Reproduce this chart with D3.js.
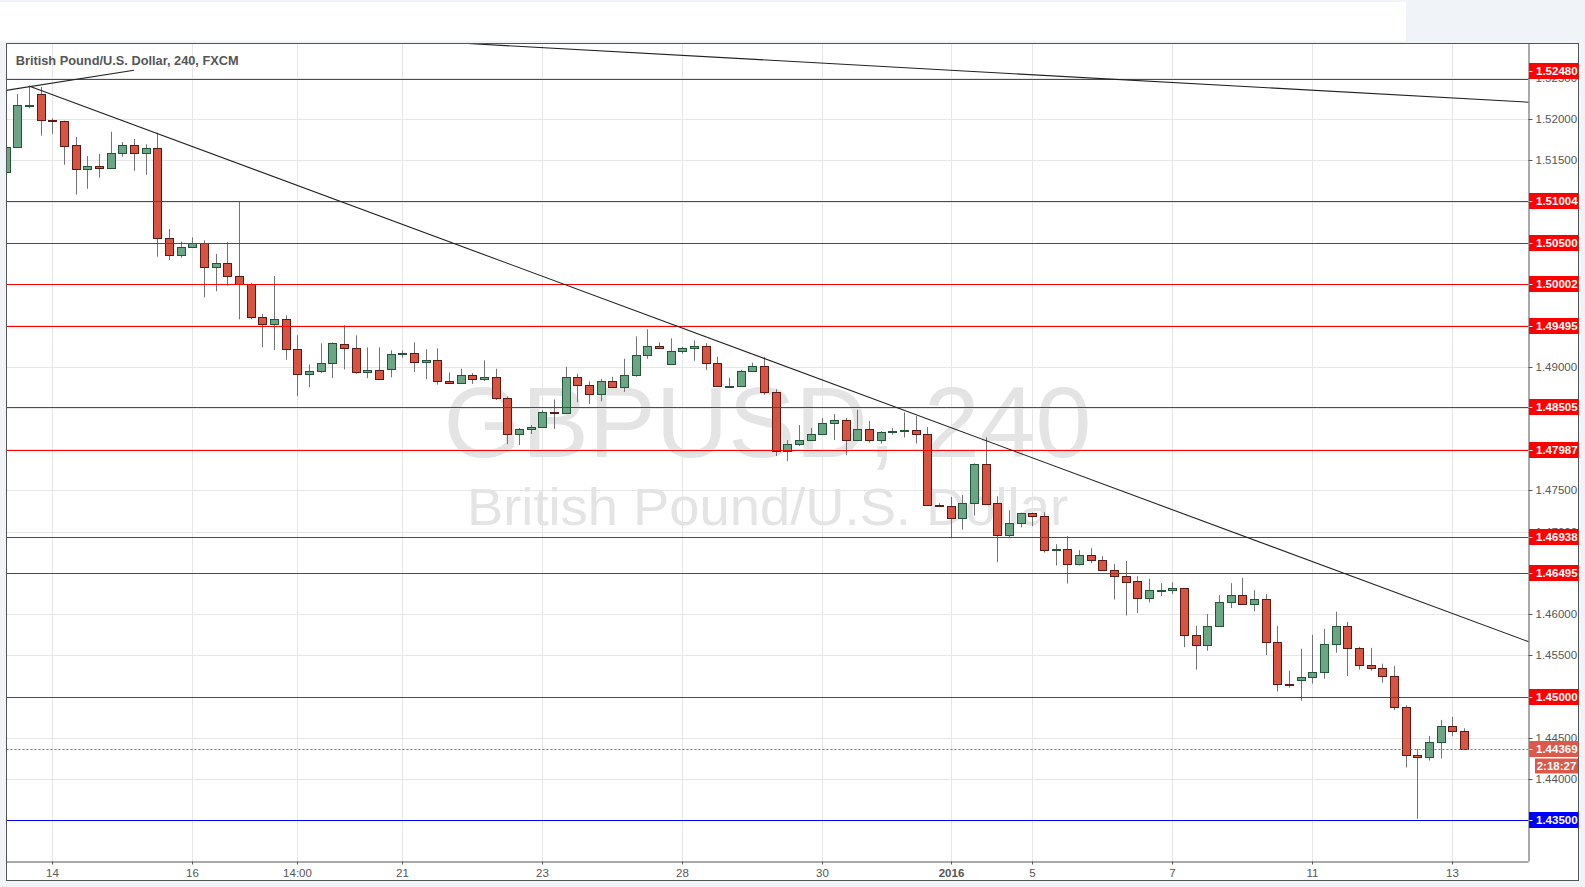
<!DOCTYPE html>
<html><head><meta charset="utf-8">
<script src="https://cdn.jsdelivr.net/npm/d3@7"></script>
<style>
body{margin:0;background:#f0f3f7;overflow:hidden}
svg{display:block}
text{font-family:"Liberation Sans",Arial,sans-serif}
</style></head>
<body><svg id="c" width="1585" height="887"></svg>
<script>
// ---------- data ----------
const opens=[1.51354,1.51657,1.52160,1.52299,1.51990,1.51976,1.51681,1.51390,1.51427,1.51402,1.51584,1.51681,1.51584,1.51645,1.50554,1.50348,1.50445,1.50493,1.50203,1.50250,
1.50093,1.50000,1.49597,1.49512,1.49572,1.49216,1.48912,1.48948,1.49046,1.49277,1.49228,1.48936,1.48960,1.48973,1.49155,1.49167,1.49058,1.49082,1.48827,1.48802,
1.48900,1.48851,1.48875,1.48620,1.48182,1.48243,1.48267,1.48453,1.48437,1.48875,1.48778,1.48668,1.48827,1.48754,1.48900,1.49143,1.49253,1.49034,1.49192,1.49228,
1.49253,1.49046,1.48758,1.48758,1.48948,1.49009,1.48693,1.47975,1.48060,1.48109,1.48182,1.48316,1.48352,1.48109,1.48239,1.48105,1.48206,1.48214,1.48226,1.48178,
1.47322,1.47306,1.47161,1.47343,1.47815,1.47343,1.46955,1.47100,1.47222,1.47185,1.46774,1.46786,1.46604,1.46713,1.46652,1.46531,1.46459,1.46398,1.46194,1.46286,
1.46290,1.46314,1.45748,1.45627,1.45856,1.46145,1.46230,1.46121,1.46182,1.45663,1.45157,1.45205,1.45241,1.45301,1.45639,1.45856,1.45590,1.45386,1.45350,1.45255,
1.44871,1.44288,1.44264,1.44446,1.44640,1.44580];
const highs=[1.51690,1.52303,1.52400,1.52390,1.52010,1.51980,1.51782,1.51552,1.51576,1.51846,1.51721,1.51758,1.51693,1.51834,1.50667,1.50515,1.50566,1.50530,1.50364,1.50509,
1.51000,1.50014,1.49637,1.50097,1.49620,1.49378,1.49025,1.49281,1.49293,1.49500,1.49378,1.49232,1.49232,1.49196,1.49196,1.49293,1.49208,1.49220,1.48928,1.48973,
1.48920,1.49074,1.48973,1.48636,1.48255,1.48291,1.48474,1.48600,1.48997,1.48912,1.48819,1.48851,1.48875,1.49094,1.49366,1.49451,1.49293,1.49342,1.49240,1.49317,
1.49281,1.49119,1.48863,1.48960,1.49046,1.49119,1.48725,1.48109,1.48291,1.48255,1.48376,1.48425,1.48376,1.48474,1.48340,1.48218,1.48255,1.48444,1.48400,1.48267,
1.47343,1.47419,1.47444,1.47827,1.48142,1.47427,1.47258,1.47230,1.47230,1.47234,1.46846,1.46943,1.46774,1.46798,1.46701,1.46608,1.46644,1.46459,1.46427,1.46374,
1.46386,1.46314,1.45856,1.46000,1.46230,1.46374,1.46439,1.46290,1.46242,1.45856,1.45313,1.45579,1.45748,1.45820,1.46029,1.45904,1.45603,1.45590,1.45398,1.45372,
1.44895,1.44365,1.44523,1.44717,1.44753,1.44616];
const lows=[1.51330,1.51657,1.52130,1.51798,1.51820,1.51446,1.51083,1.51155,1.51289,1.51402,1.51543,1.51373,1.51325,1.50331,1.50291,1.50319,1.50445,1.49839,1.49912,1.49980,
1.49572,1.49572,1.49233,1.49200,1.49082,1.48640,1.48750,1.48920,1.48859,1.48965,1.48912,1.48859,1.48839,1.48871,1.49107,1.48932,1.48847,1.48780,1.48790,1.48802,
1.48790,1.48823,1.48595,1.48060,1.48048,1.48182,1.48255,1.48243,1.48425,1.48567,1.48547,1.48579,1.48754,1.48693,1.48875,1.49094,1.49228,1.49034,1.49155,1.49070,
1.48956,1.48766,1.48741,1.48758,1.48948,1.48656,1.47914,1.47853,1.48036,1.48097,1.48182,1.48109,1.47926,1.48105,1.48077,1.48065,1.48174,1.48138,1.48065,1.47318,
1.47302,1.46919,1.47024,1.47193,1.47326,1.46628,1.46931,1.47052,1.47064,1.46745,1.46588,1.46370,1.46588,1.46616,1.46531,1.46176,1.45982,1.46011,1.46141,1.46218,
1.46242,1.45599,1.45326,1.45555,1.45856,1.46073,1.46121,1.46033,1.45502,1.45060,1.45108,1.44950,1.45157,1.45217,1.45531,1.45249,1.45326,1.45313,1.45169,1.44834,
1.44139,1.43520,1.44224,1.44248,1.44519,1.44369];
const closes=[1.51657,1.52166,1.52173,1.51984,1.51970,1.51677,1.51390,1.51427,1.51402,1.51584,1.51681,1.51584,1.51649,1.50554,1.50348,1.50445,1.50493,1.50203,1.50250,1.50093,
1.49996,1.49597,1.49512,1.49572,1.49216,1.48912,1.48948,1.49046,1.49281,1.49228,1.48936,1.48960,1.48851,1.49155,1.49167,1.49058,1.49082,1.48827,1.48802,1.48900,
1.48851,1.48875,1.48620,1.48182,1.48243,1.48267,1.48450,1.48437,1.48875,1.48778,1.48668,1.48827,1.48754,1.48900,1.49143,1.49253,1.49228,1.49192,1.49228,1.49253,
1.49046,1.48766,1.48766,1.48948,1.49009,1.48693,1.47975,1.48060,1.48109,1.48182,1.48316,1.48352,1.48109,1.48239,1.48105,1.48202,1.48218,1.48226,1.48178,1.47318,
1.47314,1.47161,1.47343,1.47815,1.47339,1.46955,1.47100,1.47222,1.47185,1.46774,1.46786,1.46604,1.46713,1.46652,1.46531,1.46459,1.46394,1.46192,1.46290,1.46290,
1.46314,1.45748,1.45627,1.45856,1.46145,1.46230,1.46121,1.46182,1.45663,1.45157,1.45153,1.45241,1.45301,1.45639,1.45856,1.45590,1.45386,1.45350,1.45253,1.44871,
1.44288,1.44264,1.44446,1.44640,1.44580,1.44369];

const xTickIndex=[4,16,25,34,46,58,70,81,88,100,112,124];
const xTickLabels=["14","16","14:00","21","23","28","30","2016","5","7","11","13"];
const yTicks=[1.435,1.44,1.445,1.45,1.455,1.46,1.465,1.47,1.475,1.48,1.485,1.49,1.495,1.5,1.505,1.51,1.515,1.52,1.525];
const redLevels=[1.52480,1.51004,1.50500,1.50002,1.49495,1.48505,1.47987,1.46938,1.46495,1.45000];
const blueLevels=[1.43500];
const lastPrice=1.44369;
const countdown="2:18:27";
// trend lines as [index, price] pairs
const trendLines=[
  [[-1,1.52324],[11,1.52590]],
  [[2,1.52400],[131,1.45640]],
  [[39.6,1.52915],[131,1.52200]]
];
const titleText="British Pound/U.S. Dollar, 240, FXCM";
const watermark1="GBPUSD, 240";
const watermark2="British Pound/U.S. Dollar";

// ---------- layout ----------
const P={l:6.5,t:43.5,r:1528.5,b:861.5,axR:1578.5,axB:880.5};
const x=d3.scaleLinear().domain([0,125]).range([5.63,1464.0]);
const y=d3.scaleLinear().domain([1.43,1.53]).range([861.55,36.5]);

const svg=d3.select("#c");
// top white strip
svg.append("rect").attr("x",0).attr("y",2).attr("width",1406).attr("height",38.7).attr("fill","#ffffff");
// chart background
svg.append("rect").attr("x",P.l).attr("y",P.t).attr("width",P.axR-P.l).attr("height",P.axB-P.t).attr("fill","#ffffff");

svg.append("defs").append("clipPath").attr("id","pc").append("rect")
  .attr("x",P.l).attr("y",P.t).attr("width",P.r-P.l).attr("height",P.b-P.t);
const g=svg.append("g").attr("clip-path","url(#pc)");

// grid
g.selectAll("line.hg").data(yTicks).enter().append("line")
  .attr("x1",P.l).attr("x2",P.r).attr("y1",d=>Math.round(y(d))+0.5).attr("y2",d=>Math.round(y(d))+0.5)
  .attr("stroke","#e6e6e6").attr("stroke-width",1);
g.selectAll("line.vg").data(xTickIndex).enter().append("line")
  .attr("y1",P.t).attr("y2",P.b).attr("x1",d=>Math.round(x(d))+0.5).attr("x2",d=>Math.round(x(d))+0.5)
  .attr("stroke","#e6e6e6").attr("stroke-width",1);

// watermark
const cxPlot=(P.l+P.r)/2;
g.append("text").text(watermark1).attr("x",cxPlot).attr("y",456.7).attr("text-anchor","middle")
  .attr("font-size",101).attr("fill","#e4e4e4").attr("textLength",648).attr("lengthAdjust","spacingAndGlyphs");
g.append("text").text(watermark2).attr("x",cxPlot).attr("y",525).attr("text-anchor","middle")
  .attr("font-size",51).attr("fill","#e4e4e4").attr("textLength",601).attr("lengthAdjust","spacingAndGlyphs");

// candles
const idx=d3.range(opens.length);
const upFill="#6ba583", dnFill="#d75442", upLine="#225437", dnLine="#5b1a13", wick="#737375";
const cg=g.append("g");
idx.forEach(i=>{
  const cx=Math.round(x(i))+0.5;
  const up=closes[i]>=opens[i];
  cg.append("line").attr("x1",cx).attr("x2",cx).attr("y1",y(highs[i])).attr("y2",y(lows[i]))
    .attr("stroke",wick).attr("stroke-width",1);
  const top=Math.round(y(Math.max(opens[i],closes[i])))+0.5;
  let bot=Math.round(y(Math.min(opens[i],closes[i])))+0.5;
  if(bot-top<1) bot=top+1;
  cg.append("rect").attr("x",cx-4).attr("width",8).attr("y",top).attr("height",bot-top)
    .attr("fill",up?upFill:dnFill).attr("stroke",up?upLine:dnLine).attr("stroke-width",1);
});

// horizontal levels
g.selectAll("line.red").data(redLevels).enter().append("line")
  .attr("x1",P.l).attr("x2",P.r).attr("y1",d=>Math.round(y(d))+0.5).attr("y2",d=>Math.round(y(d))+0.5)
  .attr("stroke","#ff0000").attr("stroke-width",1.2);
g.selectAll("line.blue").data(blueLevels).enter().append("line")
  .attr("x1",P.l).attr("x2",P.r).attr("y1",d=>Math.round(y(d))+0.5).attr("y2",d=>Math.round(y(d))+0.5)
  .attr("stroke","#0000ff").attr("stroke-width",1.2);
g.append("line").attr("x1",P.l).attr("x2",P.r).attr("y1",Math.round(y(lastPrice))+0.5).attr("y2",Math.round(y(lastPrice))+0.5)
  .attr("stroke","#e0493c").attr("stroke-width",1).attr("stroke-dasharray","2,2");

// trend lines
const ln=d3.line().x(d=>x(d[0])).y(d=>y(d[1]));
g.selectAll("path.tl").data(trendLines).enter().append("path")
  .attr("d",ln).attr("fill","none").attr("stroke","#222").attr("stroke-width",1.1);

// title
svg.append("text").text(titleText).attr("x",15.7).attr("y",65).attr("font-size",13).attr("font-weight","bold")
  .attr("fill","#555").attr("textLength",223).attr("lengthAdjust","spacingAndGlyphs");

// frames
const fr=svg.append("g").attr("stroke","#555").attr("stroke-width",1).attr("fill","none");
fr.append("rect").attr("x",P.l).attr("y",P.t).attr("width",P.axR-P.l).attr("height",P.axB-P.t);

// y axis
const ya=svg.append("g").attr("transform",`translate(${P.r},0)`)
  .call(d3.axisRight(y).tickValues(yTicks).tickFormat(d3.format(".5f")).tickSize(4).tickPadding(3));
ya.select(".domain").attr("stroke","#555").attr("d",`M0.5,${P.t}V${P.b}`);
ya.selectAll(".tick line").attr("stroke","#555");
ya.selectAll(".tick text").attr("fill","#555").attr("font-size",11.5).attr("font-family","Liberation Sans, Arial, sans-serif");
ya.selectAll(".tick").attr("transform",d=>`translate(0,${Math.round(y(d))+0.5})`);

// x axis
const xa=svg.append("g").attr("transform",`translate(0,${P.b})`)
  .call(d3.axisBottom(x).tickValues(xTickIndex).tickFormat((d,i)=>xTickLabels[i]).tickSize(3).tickPadding(4));
xa.select(".domain").attr("stroke","#555").attr("d",`M${P.l},0.5H${P.r}`);
xa.selectAll(".tick line").attr("stroke","#555");
xa.selectAll(".tick").attr("transform",d=>`translate(${Math.round(x(d))+0.5},0)`);
xa.selectAll(".tick text").attr("fill","#555").attr("font-size",11.5).attr("font-family","Liberation Sans, Arial, sans-serif")
  .attr("font-weight",(d,i)=>xTickLabels[i]==="2016"?"bold":"normal");

// price labels
function priceLabel(p,color,nudge){
  const cy=Math.round(y(p))+nudge;
  const lg=svg.append("g");
  lg.append("rect").attr("x",P.r+0.5).attr("y",cy-8).attr("width",P.axR-P.r-0.5).attr("height",16).attr("fill",color);
  lg.append("line").attr("x1",P.r+1).attr("x2",P.r+4).attr("y1",cy+0.5).attr("y2",cy+0.5).attr("stroke","#fff");
  lg.append("text").text(d3.format(".5f")(p)).attr("x",P.r+7.5).attr("y",cy).attr("dy","0.36em")
    .attr("fill","#fff").attr("font-weight","bold").attr("font-size",11.5);
}
redLevels.forEach((p,i)=>priceLabel(p,"#ff0000",i===0?-8:0));
blueLevels.forEach(p=>priceLabel(p,"#0000ff",0));
priceLabel(lastPrice,"#dc5849",0);
const cdy=Math.round(y(lastPrice))+17;
svg.append("rect").attr("x",1535).attr("y",cdy-7.5).attr("width",43).attr("height",15).attr("fill","#dc5849");
svg.append("text").text(countdown).attr("x",1556.5).attr("y",cdy).attr("dy","0.36em").attr("text-anchor","middle")
  .attr("fill","#fff").attr("font-weight","bold").attr("font-size",11.5);
</script></body></html>
